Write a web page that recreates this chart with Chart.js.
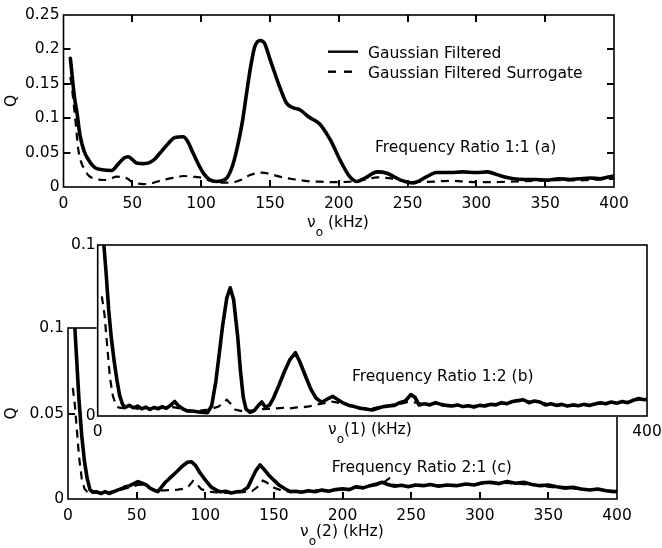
<!DOCTYPE html>
<html>
<head>
<meta charset="utf-8">
<script src="https://cdn.jsdelivr.net/npm/chart.js@4.4.1/dist/chart.umd.min.js"></script>
<style>
html, body { margin: 0; padding: 0; background: #fff; }
#wrap { position: relative; width: 662px; height: 548px; overflow: hidden; }
#wrap canvas { position: absolute; left: 0; top: 0; }
</style>
</head>
<body>
<div id="wrap">
  <canvas id="chartC" width="662" height="548"></canvas>
  <canvas id="chartB" width="662" height="548"></canvas>
  <canvas id="chartA" width="662" height="548"></canvas>
</div>
<script>
// panel (a): frequency ratio 1:1
const aFiltKHz = [5,8,10,12,15,18,20,23,28,35,40,44,47,50,53,58,62,66,70,76,81,87,90,94,98,102,106,111,115,119,123,126,130,133,136,139,143,146,150,157,162,167,172,178,186,194,201,208,213,219,228,235,245,254,264,271,281,290,300,308,315,320,327,335,343,351,360,368,375,383,390,397,400];
const aFiltQ = [.187,.13,.105,.075,.052,.04,.034,.028,.025,.024,.034,.042,.044,.04,.035,.034,.035,.04,.049,.063,.072,.073,.067,.05,.033,.019,.011,.008,.009,.014,.032,.055,.095,.136,.175,.204,.213,.209,.186,.146,.122,.115,.112,.102,.092,.068,.039,.015,.008,.013,.022,.02,.01,.006,.015,.021,.021,.022,.021,.022,.018,.015,.012,.011,.011,.010,.012,.011,.012,.013,.012,.015,.016];
const aSurrKHz = [5,6,8.4,10.8,13,15.6,18,21.7,25,29,34,38.6,43,46,50.5,54,58,63,67.7,72,77.4,82,87,93,99,103,106.5,111,116,121,125,130,135.5,140,144,150,157,165,172,180,186,193,199,206,213,220,228,233,238,245,252,260,269,275,281,290,300,310,320,330,340,350,360,370,380,390,400];
const aSurrQ = [.16,.146,.102,.054,.035,.025,.017,.0126,.011,.0102,.012,.015,.014,.0126,.0063,.005,.0043,.005,.0077,.01,.0126,.014,.016,.015,.014,.012,.009,.007,.0063,.0065,.0077,.011,.0174,.02,.021,.019,.015,.012,.01,.008,.0077,.007,.007,.0075,.0087,.011,.014,.0135,.0126,.01,.0077,.0075,.0077,.0085,.009,.008,.007,.007,.0075,.008,.009,.0095,.01,.0095,.01,.011,.012];

// panel (b): frequency ratio 1:2
const bFiltKHz = [4,6,8,10,12,14,16,18,20,23,26,29,32,35,38,41,44,47,50,53,56,59,62,65,70,75,80,83,86,88,91,94,96.5,99,102,104,106,108,111,114,117,119.5,122,125,128,132,136,140,144,147,151,155,159,163,167,171,175,179,183,187,191,196,200,204,208,212,216,220,224,228,231,234,238,242,246,250,254,258,262,266,270,274,278,282,286,290,294,298,302,306,310,314,318,322,326,330,334,338,342,346,350,354,358,362,366,370,374,378,382,386,390,394,398,400];
const bFiltQ = [0.105,0.085,0.062,0.045,0.032,0.021,0.012,0.007,0.005,0.0062,0.0048,0.0058,0.0042,0.0052,0.0038,0.005,0.0042,0.0055,0.0045,0.0062,0.0085,0.0058,0.0042,0.003,0.0028,0.0022,0.002,0.006,0.02,0.033,0.053,0.069,0.075,0.068,0.046,0.026,0.011,0.004,0.0022,0.0032,0.0062,0.0082,0.0052,0.0062,0.0105,0.018,0.026,0.033,0.037,0.032,0.024,0.016,0.0105,0.008,0.0098,0.0115,0.0095,0.0075,0.0062,0.0055,0.0045,0.004,0.0035,0.0045,0.0055,0.0058,0.0062,0.0078,0.0088,0.0125,0.011,0.0065,0.0072,0.0065,0.0078,0.0068,0.0062,0.0058,0.0065,0.0055,0.006,0.0052,0.0062,0.0058,0.0068,0.0065,0.0078,0.0072,0.0085,0.009,0.0095,0.0078,0.0088,0.0082,0.0065,0.0072,0.0062,0.0068,0.0058,0.0065,0.006,0.0068,0.0062,0.007,0.0078,0.0072,0.0082,0.0075,0.0085,0.0078,0.0092,0.0102,0.0095,0.0098];
const bSurrKHz = [3,5,7,9,11,13,15,20,25,30,35,40,45,50,55,60,65,70,75,80,84,88,91,94,97,100,104,108,112,116,120,125,130,135,140,145,150,155,160,165,170,175,180,185,190,196,202,208,214,220,226,232,238,244,250,256,262,268,274,280,286,292,298,304,310,316,322,328,334,340,346,352,358,364,370,376,382,388,394,400];
const bSurrQ = [0.07,0.059,0.04,0.022,0.012,0.007,0.005,0.0045,0.0052,0.004,0.0048,0.0042,0.005,0.0045,0.0052,0.0045,0.0035,0.003,0.0032,0.0038,0.0045,0.0055,0.0075,0.0095,0.007,0.0038,0.003,0.003,0.0032,0.0035,0.004,0.0042,0.0045,0.0048,0.0045,0.005,0.0052,0.0058,0.0068,0.0075,0.0085,0.0078,0.0068,0.0058,0.005,0.0042,0.0048,0.0058,0.0065,0.007,0.0082,0.0078,0.0068,0.0072,0.0062,0.0058,0.0062,0.0055,0.006,0.0062,0.007,0.0072,0.0078,0.0088,0.0092,0.0082,0.008,0.007,0.0065,0.0062,0.006,0.0065,0.0066,0.0072,0.0075,0.0078,0.008,0.0085,0.0095,0.01];

// panel (c): frequency ratio 2:1
const cFiltKHz = [5,6,8,10,12,14,16,18,21,24,27,30,33,36,39,42,45,48,51,54,57,60,63,65.5,68,71,75,79,83,87,90,93,96,100,104,108,111,115,119,123,127,131,134,137,140,143,146,150,154,158,162,166,170,175,180,185,190,195,200,205,210,215,220,225,229,233,238,243,248,253,259,264,270,276,283,290,296,302,308,314,320,326,332,338,344,350,356,362,368,374,380,386,392,398,400];
const cFiltQ = [0.1,0.086,0.058,0.037,0.022,0.012,0.0055,0.004,0.0042,0.0032,0.0043,0.0032,0.0042,0.0052,0.006,0.0072,0.0078,0.009,0.0102,0.0092,0.0082,0.0062,0.005,0.0043,0.0068,0.0098,0.0128,0.0158,0.019,0.0215,0.0218,0.0195,0.0155,0.0112,0.0072,0.0052,0.0042,0.0045,0.0035,0.0042,0.0045,0.0068,0.0118,0.0168,0.0199,0.0172,0.0142,0.011,0.008,0.006,0.0043,0.0045,0.004,0.0048,0.0042,0.0052,0.0045,0.0055,0.006,0.0055,0.0072,0.0065,0.0078,0.0088,0.0098,0.0085,0.0075,0.008,0.0072,0.0082,0.0078,0.0085,0.0075,0.0082,0.0078,0.0088,0.0082,0.0095,0.0098,0.009,0.0102,0.0092,0.0098,0.0085,0.0078,0.0082,0.0072,0.0065,0.0068,0.0058,0.0053,0.0058,0.0048,0.0043,0.0045];
const cSurrKHz = [3.5,5,6.5,8,10,12,14,18,24,30,36,42,48,52,56,60,65,70,75,80,85,88,91,94,97,101,106,112,118,124,130,134,138,142,145,149,154,160,166,172,180,188,196,204,212,220,228,234,236,242,250,258,266,274,282,290,298,306,314,322,330,338,346,354,362,370,378,386,394,400];
const cSurrQ = [0.065,0.055,0.04,0.025,0.012,0.006,0.0042,0.0038,0.0035,0.004,0.0048,0.0062,0.0075,0.0085,0.0078,0.006,0.0048,0.005,0.0052,0.0055,0.006,0.0075,0.0105,0.0085,0.0058,0.0045,0.004,0.0038,0.0035,0.0038,0.0042,0.0045,0.007,0.0108,0.0095,0.0068,0.0055,0.0045,0.0042,0.0045,0.005,0.0048,0.0055,0.0058,0.0065,0.0075,0.0085,0.012,0.0085,0.0078,0.0075,0.008,0.0078,0.0082,0.008,0.0085,0.0088,0.0092,0.0095,0.0092,0.0088,0.0082,0.0075,0.0068,0.0062,0.006,0.0055,0.0052,0.0048,0.0045];

const FONT = '"DejaVu Sans", sans-serif';
Chart.defaults.font.family = FONT;
Chart.defaults.font.size = 15.5;
Chart.defaults.color = '#000';
Chart.defaults.animation = false;

const pts = (xs, ys) => xs.map((x, i) => ({ x: x, y: ys[i] }));
const qLabel = v => String(Math.round(v * 1000) / 1000);
const TICK_LEN = 7;

// white backing (for the inset), box round the plot area, inward ticks
function framePlugin(cfg) {
  return {
    id: 'frame',
    beforeDraw(chart) {
      if (!cfg.fill) return;
      const a = chart.chartArea, ctx = chart.ctx;
      ctx.save();
      ctx.fillStyle = '#fff';
      ctx.fillRect(a.left - 1, a.top - 1, a.width + 2, a.height + 2);
      ctx.restore();
    },
    afterDraw(chart) {
      const ctx = chart.ctx, a = chart.chartArea;
      const xs = chart.scales.x, ys = chart.scales.y;
      const sides = cfg.tickSides;
      ctx.save();
      ctx.strokeStyle = '#000';
      ctx.setLineDash([]);
      ctx.lineWidth = 1.6;
      ctx.strokeRect(a.left, a.top, a.width, a.height);
      ctx.lineWidth = 2;
      ctx.beginPath();
      for (let v = cfg.xStep; v < 400 - 1e-9; v += cfg.xStep) {
        const px = Math.round(xs.getPixelForValue(v));
        if (sides.indexOf('b') >= 0) { ctx.moveTo(px, a.bottom); ctx.lineTo(px, a.bottom - TICK_LEN); }
        if (sides.indexOf('t') >= 0) { ctx.moveTo(px, a.top); ctx.lineTo(px, a.top + TICK_LEN); }
      }
      for (let v = cfg.yStep; v < cfg.yMax - 1e-9; v += cfg.yStep) {
        const py = Math.round(ys.getPixelForValue(v));
        if (sides.indexOf('l') >= 0) { ctx.moveTo(a.left, py); ctx.lineTo(a.left + TICK_LEN, py); }
        if (sides.indexOf('r') >= 0) { ctx.moveTo(a.right, py); ctx.lineTo(a.right - TICK_LEN, py); }
      }
      ctx.stroke();
      ctx.restore();
    }
  };
}

// legend, panel note and the subscripted x title
function textPlugin(cfg) {
  return {
    id: 'texts',
    afterDraw(chart) {
      const ctx = chart.ctx, a = chart.chartArea;
      const big = '15.5px ' + FONT, small = '12px ' + FONT;
      ctx.save();
      ctx.fillStyle = '#000';
      ctx.strokeStyle = '#000';
      ctx.textAlign = 'left';
      ctx.textBaseline = 'alphabetic';
      ctx.font = big;
      if (cfg.legend) {
        const L = cfg.legend;
        chart.data.datasets.forEach((ds, i) => {
          const ly = a.top + L.dy + i * L.gap;
          ctx.beginPath();
          ctx.setLineDash(ds.borderDash ? [8, 8] : []);
          ctx.lineWidth = 2.4;
          ctx.moveTo(a.left + L.dx, ly);
          ctx.lineTo(a.left + L.dx + L.len, ly);
          ctx.stroke();
          ctx.setLineDash([]);
          ctx.fillText(ds.label, a.left + L.dx + L.len + 10, ly + 6.6);
        });
      }
      if (cfg.note) {
        ctx.fillText(cfg.note.text, a.left + cfg.note.dx, a.top + cfg.note.dy);
      }
      if (cfg.xtitle) {
        const t = cfg.xtitle;
        let px = a.left + t.dx;
        const base = a.bottom + t.dy;
        ctx.fillText('\u03bd', px, base);
        px += ctx.measureText('\u03bd').width;
        ctx.font = small;
        ctx.fillText('o', px, base + 9);
        px += ctx.measureText('o').width;
        ctx.font = big;
        ctx.fillText(t.rest, px, base);
      }
      ctx.restore();
    }
  };
}

function makePanel(id, cfg) {
  const solid = {
    label: 'Gaussian Filtered',
    data: pts(cfg.filtX, cfg.filtY),
    borderColor: '#000',
    borderWidth: 3.6,
    pointRadius: 0,
    borderJoinStyle: 'round',
    borderCapStyle: 'round',
    cubicInterpolationMode: cfg.smooth ? 'monotone' : 'default',
    tension: 0
  };
  const dashed = {
    label: 'Gaussian Filtered Surrogate',
    data: pts(cfg.surrX, cfg.surrY),
    borderColor: '#000',
    borderWidth: 2.2,
    borderDash: [8, 6],
    pointRadius: 0,
    cubicInterpolationMode: cfg.smooth ? 'monotone' : 'default',
    tension: 0
  };
  return new Chart(document.getElementById(id), {
    type: 'line',
    data: { datasets: [solid, dashed] },
    options: {
      responsive: false,
      devicePixelRatio: 1,
      layout: { padding: cfg.padding },
      plugins: {
        legend: { display: false },
        tooltip: { enabled: false }
      },
      scales: {
        x: {
          type: 'linear', min: 0, max: 400,
          grid: { display: false, drawTicks: false },
          border: { display: false },
          ticks: { stepSize: cfg.xStep, autoSkip: false, maxRotation: 0, padding: cfg.xPad },
          afterFit: s => { s.height = 40; s.paddingLeft = 0; s.paddingRight = 0; }
        },
        y: {
          min: 0, max: cfg.yMax,
          grid: { display: false, drawTicks: false },
          border: { display: false },
          ticks: { stepSize: cfg.yStep, padding: cfg.yPad, callback: qLabel },
          title: { display: cfg.showQ, text: 'Q', padding: { top: 3, bottom: 0 } },
          afterFit: s => { s.width = cfg.yWidth; s.paddingTop = 0; s.paddingBottom = 0; }
        }
      }
    },
    plugins: [framePlugin(cfg), textPlugin(cfg)]
  });
}

// bottom panel first, the inset (b) is stacked over it
makePanel('chartC', {
  filtX: cFiltKHz, filtY: cFiltQ, surrX: cSurrKHz, surrY: cSurrQ,
  smooth: false, yMax: 0.1, yStep: 0.05, xStep: 50, xPad: 8, yPad: 4, yWidth: 68, showQ: true,
  padding: { left: 0, top: 328, right: 45, bottom: 9 },
  tickSides: 'bl', fill: false,
  note: { text: 'Frequency Ratio 2:1 (c)', dx: 263.7, dy: 143.7 },
  xtitle: { dx: 232, dy: 37, rest: '(2) (kHz)' }
});

makePanel('chartB', {
  filtX: bFiltKHz, filtY: bFiltQ, surrX: bSurrKHz, surrY: bSurrQ,
  smooth: false, yMax: 0.1, yStep: 0.1, xStep: 400, xPad: 7, yPad: 2, yWidth: 97.7, showQ: false,
  padding: { left: 0, top: 245, right: 15, bottom: 92 },
  tickSides: '', fill: true,
  note: { text: 'Frequency Ratio 1:2 (b)', dx: 254.3, dy: 136 },
  xtitle: { dx: 230.3, dy: 18, rest: '(1) (kHz)' }
});

makePanel('chartA', {
  filtX: aFiltKHz, filtY: aFiltQ, surrX: aSurrKHz, surrY: aSurrQ,
  smooth: true, yMax: 0.25, yStep: 0.05, xStep: 50, xPad: 8, yPad: 4, yWidth: 63.5, showQ: true,
  padding: { left: 0, top: 15, right: 48, bottom: 321 },
  tickSides: 'btlr', fill: false,
  legend: { dx: 264.5, dy: 36.7, gap: 20, len: 30 },
  note: { text: 'Frequency Ratio 1:1 (a)', dx: 311.5, dy: 136.7 },
  xtitle: { dx: 243.5, dy: 40, rest: ' (kHz)' }
});
</script>
</body>
</html>
